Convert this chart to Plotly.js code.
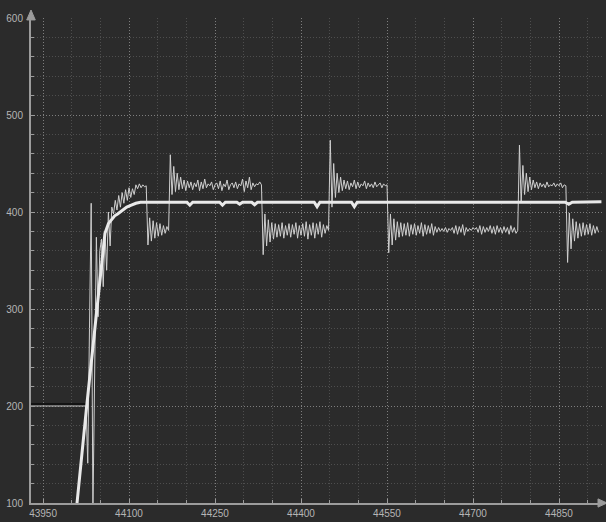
<!DOCTYPE html>
<html>
<head>
<meta charset="utf-8">
<script src="https://cdn.plot.ly/plotly-3.0.1.min.js"></script>
<style>
html,body{margin:0;padding:0;background:#2b2b2b;}
#chart{width:606px;height:522px;}
</style>
</head>
<body>
<div id="chart"></div>
<script>
// ---- data ----
// initial flat level of the measured signal
var preX = [43929, 44025];
var preY = [200, 200];
// dark reference line at the start
var refX = [43929, 44027];
var refY = [202, 202];
// measured (noisy) signal, sampled every 3 units starting at 44025
var measX0 = 44025;
var measDx = 3;
var measY = [
 200,141,280,409,90,250,374,292,360,372,323,379,340,400,365,405,
 398,412,402,417,405,420,409,423,412,425,415,424,418,428,424,429,425,428,426,427,
 366,394,370,391,373,389,375,388,376,386,378,385,381,
 459,418,447,421,440,423,436,424,433,422,432,425,431,423,430,426,433,422,431,424,
 434,425,429,427,431,423,428,430,424,432,422,429,426,433,423,428,430,425,431,424,
 429,427,434,421,432,425,436,423,430,426,429,428,431,428,
 356,398,365,392,369,389,372,388,374,387,375,389,373,386,376,388,374,387,377,389,
 373,386,376,388,375,390,372,387,376,389,373,388,377,390,374,387,378,386,381,
 474,405,450,415,440,420,436,422,433,424,432,423,430,426,433,424,431,425,429,427,
 432,424,430,426,429,425,431,426,428,430,425,429,427,428,
 358,398,366,393,371,390,374,389,375,388,376,389,375,387,377,388,376,386,378,389,
 375,387,377,386,378,388,376,385,379,384,380,383,380,384,379,383,381,384,378,386,
 377,385,379,387,376,384,380,383,381,384,382,384,379,386,377,385,379,384,380,386,
 378,385,377,386,379,384,378,385,379,384,377,386,379,384,378,381,
 469,410,448,418,440,421,436,423,433,425,431,424,430,426,429,425,431,426,428,427,
 430,426,429,427,430,425,428,427,
 348,399,362,393,370,390,373,388,375,389,376,387,377,388,376,386,378,385,379
];
// smoothed signal (thick line)
var smoothX = [44000,44009,44026,44044,44058,44064,44070,44075,44080,44088,44096,44104,44112,44120,
  44201,44206,44211,44258,44263,44268,44288,44293,44298,44314,44319,44324,
  44423,44428,44433,44488,44493,44498,44861,44867,44873,44924];
var smoothY = [45,100,199,300,378,388,393,396,398,402,405,407,409,410,
  410,407,410,410,407,410,410,408,410,410,407.5,410,
  410,405.5,410,410,405.5,410,410,408,410,410.5];
// axis settings
var xRange = [43929, 44925];
var yRange = [100, 600];
var xTick0 = 43950, xMajor = 150, xMinor = 50;
var yMajor = 100, yMinor = 20;

var axisCol = '#9c9c9c';
var labelCol = '#b5b5b5';
var gridMajor = '#7e7e7e';
var gridMinor = '#4e4e4e';

var traces = [
  {x: preX, y: preY, mode: 'lines', line: {color: '#bdbdbd', width: 1.2}, hoverinfo: 'skip'},
  {x: refX, y: refY, mode: 'lines', line: {color: '#0c0c0c', width: 1.5}, hoverinfo: 'skip'},
  {x0: measX0, dx: measDx, y: measY, mode: 'lines', line: {color: '#cfcfcf', width: 1}, hoverinfo: 'skip'},
  {x: smoothX, y: smoothY, mode: 'lines', line: {color: '#e9e9e9', width: 3}, hoverinfo: 'skip'}
];

var layout = {
  width: 606, height: 522,
  paper_bgcolor: '#2b2b2b', plot_bgcolor: '#2b2b2b',
  margin: {l: 31, r: 4, t: 18, b: 19, pad: 0},
  showlegend: false,
  font: {family: 'Liberation Sans, Arial, sans-serif', size: 10, color: labelCol},
  xaxis: {
    range: xRange, tick0: xTick0, dtick: xMajor, tickformat: 'd',
    showline: true, linecolor: axisCol, linewidth: 2,
    ticks: 'inside', ticklen: 4, tickcolor: axisCol, tickwidth: 1,
    showgrid: true, gridcolor: gridMajor, griddash: '1px,2px', gridwidth: 1,
    zeroline: false, tickfont: {size: 10, color: labelCol},
    minor: {dtick: xMinor, tick0: xTick0, ticks: 'inside', ticklen: 3, tickcolor: axisCol,
            showgrid: true, gridcolor: gridMinor, griddash: '1px,2px', gridwidth: 1}
  },
  yaxis: {
    range: yRange, dtick: yMajor, tick0: 0,
    showline: true, linecolor: axisCol, linewidth: 2,
    ticks: 'inside', ticklen: 4, tickcolor: axisCol, tickwidth: 1,
    ticklabelstandoff: 4,
    showgrid: true, gridcolor: gridMajor, griddash: '1px,2px', gridwidth: 1,
    zeroline: false, tickfont: {size: 10, color: labelCol},
    minor: {dtick: yMinor, ticks: 'inside', ticklen: 3, tickcolor: axisCol,
            showgrid: true, gridcolor: gridMinor, griddash: '1px,2px', gridwidth: 1}
  },
  shapes: [
    {type: 'path', xref: 'paper', yref: 'paper',
     path: 'M -0.0075 0.996 L 0 1.0165 L 0.0075 0.996 Z',
     fillcolor: axisCol, line: {color: axisCol, width: 1}},
    {type: 'path', xref: 'paper', yref: 'paper',
     path: 'M 0.993 0.0085 L 1.0088 0 L 0.993 -0.0085 Z',
     fillcolor: axisCol, line: {color: axisCol, width: 1}}
  ]
};

Plotly.newPlot('chart', traces, layout, {displayModeBar: false, staticPlot: true});
</script>
</body>
</html>
